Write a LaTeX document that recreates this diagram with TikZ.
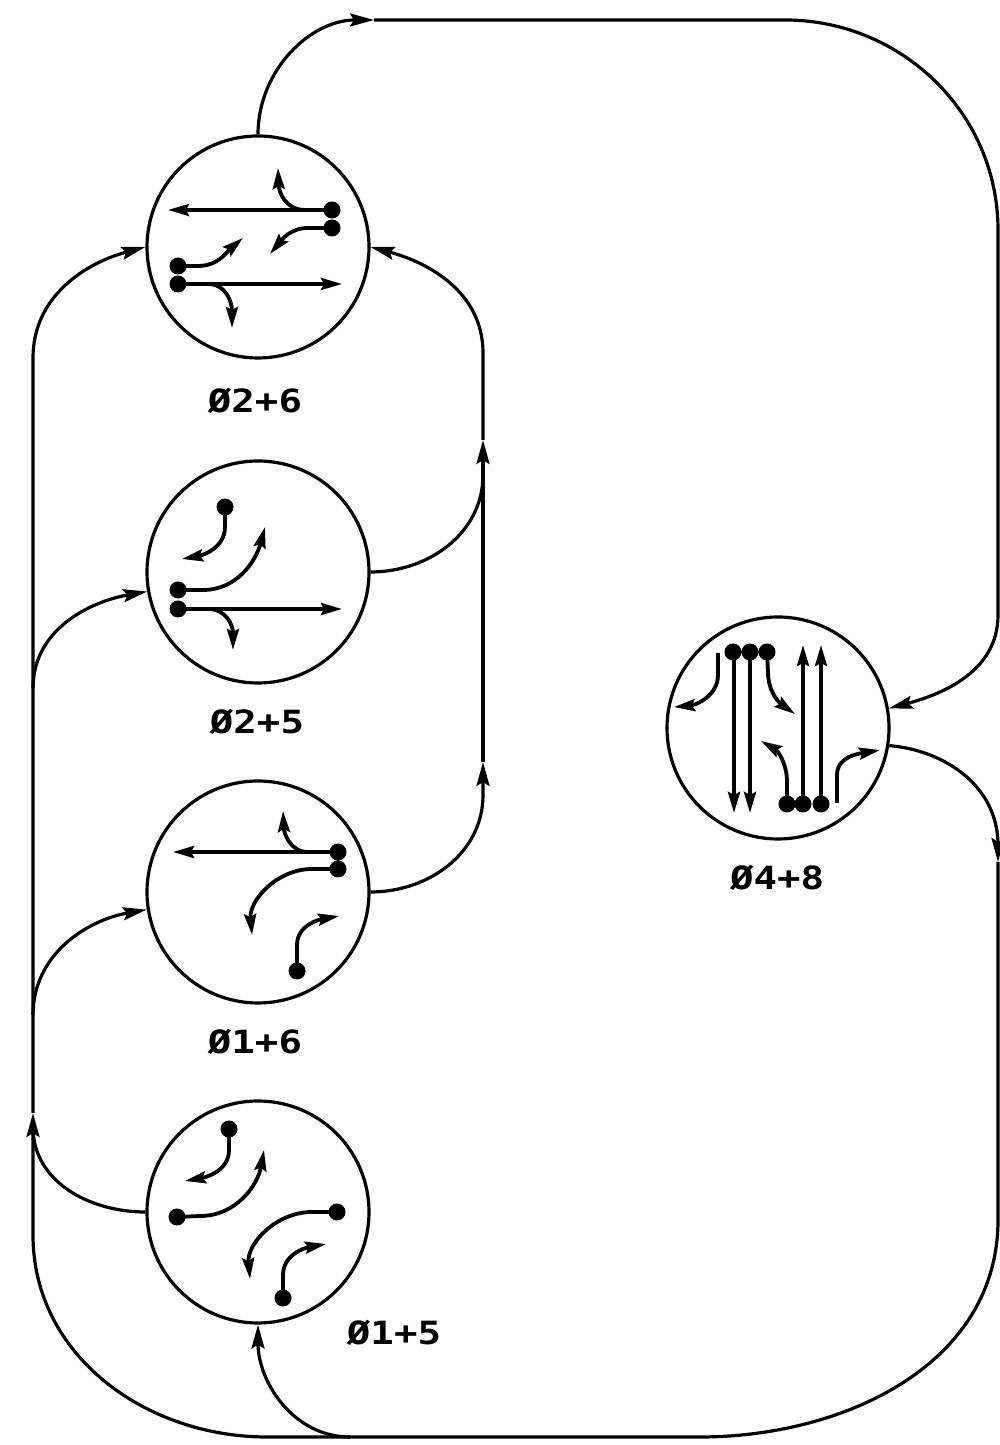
\documentclass[tikz,border=0pt]{standalone}
\usepackage{fontspec}
\usepackage{graphicx}
\newfontfamily\lblfont{DejaVu Sans Mono}
\usetikzlibrary{arrows.meta}
\begin{document}
\begin{tikzpicture}[x=1pt,y=1pt,
  ring/.style={circle,draw,line width=3.2pt,minimum size=222pt,inner sep=0pt},
  lbl/.style={inner sep=0pt,font=\lblfont\bfseries\fontsize{32}{32}\selectfont},
  cl/.style={line width=3.2pt},
  ca/.style={line width=3.2pt,-{Stealth[length=24pt,width=13pt,inset=4pt]}},
  ia/.style={line width=3.8pt,-{Stealth[length=21pt,width=12pt,inset=3pt]}},
  ]
\useasboundingbox (0,0) rectangle (1000,1445);
% phase circles
\node[ring] (A) at (258,1198) {};
\node[ring] (B) at (258,873) {};
\node[ring] (C) at (258,553) {};
\node[ring] (D) at (258,233) {};
\node[ring] (E) at (778,717) {};
% labels
\node[lbl] (LA) at (255,1044) {\scalebox{1.22}[1]{Ø2+6}};
\node[lbl] (LB) at (257,723) {\scalebox{1.22}[1]{Ø2+5}};
\node[lbl] (LC) at (255,403) {\scalebox{1.22}[1]{Ø1+6}};
\node[lbl] (LD) at (394,112) {\scalebox{1.22}[1]{Ø1+5}};
\node[lbl] (LE) at (777,567) {\scalebox{1.22}[1]{Ø4+8}};
% connector waypoints
\coordinate (t1) at (374,1425);
\coordinate (t2) at (785,1425);
\coordinate (t3) at (998,1215);
\coordinate (t4) at (998,830);
\coordinate (r1) at (998,600);
\coordinate (r2) at (998,583);
\coordinate (r3) at (998,225);
\coordinate (b1) at (700,8);
\coordinate (j1) at (350,8);
\coordinate (b2) at (267,8);
\coordinate (l1) at (33,210);
\coordinate (l2) at (33,332);
\coordinate (jd) at (33,318);
\coordinate (jc) at (33,430);
\coordinate (jb) at (33,757);
\coordinate (l3) at (33,1087);
\coordinate (rc) at (483,650);
\coordinate (ra) at (483,683);
\coordinate (rb) at (483,970);
\coordinate (rbb) at (483,1005);
\coordinate (rt) at (483,1092);
% connectors
\draw[ca] (A.north) to[out=90,in=180] (t1);
\draw[ca] (t1) -- (t2) to[out=0,in=90] (t3) -- (t4) to[out=-90,in=15] (E.10);
\draw[ca] (E.-9) to[out=-5,in=90] (r1) -- (r2);
\draw[cl] (r2) -- (r3) to[out=-90,in=0] (b1) -- (j1);
\draw[ca] (j1) to[out=180,in=-90] (D.south);
\draw[ca] (j1) -- (b2) to[out=180,in=-90] (l1) -- (l2);
\draw[cl] (D.west) to[out=180,in=-90] (jd);
\draw[ca] (l2) -- (l3) to[out=90,in=195] (A.west);
\draw[ca] (jc) to[out=90,in=190] (C.189);
\draw[ca] (jb) to[out=90,in=190] (B.190);
\draw[ca] (C.east) to[out=0,in=-90] (rc) -- (ra);
\draw[ca] (ra) -- (rbb);
\draw[cl] (B.east) to[out=0,in=-90] (rb);
\draw[ca] (rbb) -- (rt) to[out=90,in=-15] (A.east);
% movements in A
\draw[ia] (332,1235) -- (168,1235);
\draw[ia] (305,1235) .. controls (286,1235) and (279,1252) .. (278,1277);
\draw[ia] (332,1217) -- (308,1217) to[out=180,in=50] (270,1191);
\draw[ia] (178,1179) -- (198,1179) to[out=0,in=-140] (243,1207);
\draw[ia] (178,1161) -- (342,1161);
\draw[ia] (208,1161) .. controls (226,1161) and (232,1143) .. (232,1117);
\fill (332,1235) circle (8.5) (332,1217) circle (8.5) (178,1179) circle (8.5) (178,1161) circle (8.5);
% movements in B
\draw[ia] (225,938) -- (225,918) to[out=-90,in=10] (182,886);
\draw[ia] (178,855) -- (203,855) to[out=0,in=-105] (265,918);
\draw[ia] (178,836) -- (342,836);
\draw[ia] (208,836) .. controls (226,836) and (233,820) .. (233,795);
\fill (225,938) circle (8.5) (178,855) circle (8.5) (178,836) circle (8.5);
% movements in C
\draw[ia] (338,593) -- (173,593);
\draw[ia] (308,593) .. controls (290,593) and (284,612) .. (283,634);
\draw[ia] (338,576) -- (312,576) to[out=180,in=95] (252,510);
\draw[ia] (297,474) -- (297,500) to[out=90,in=190] (339,529);
\fill (338,593) circle (8.5) (338,576) circle (8.5) (297,474) circle (8.5);
% movements in D
\draw[ia] (229,316) -- (229,295) to[out=-90,in=10] (185,264);
\draw[ia] (177,228) -- (200,229) to[out=0,in=-100] (264,295);
\draw[ia] (337,233) -- (312,233) to[out=180,in=95] (250,166);
\draw[ia] (283,147) -- (283,170) to[out=90,in=190] (326,201);
\fill (229,316) circle (8.5) (177,228) circle (8.5) (337,233) circle (8.5) (283,147) circle (8.5);
% movements in E
\draw[ia] (734,793) -- (734,632);
\draw[ia] (750,793) -- (750,632);
\draw[ia] (767,793) -- (768,773) to[out=-90,in=145] (795,731);
\draw[ia] (718,792) -- (718,770) to[out=-90,in=5] (674,738);
\draw[ia] (803,641) -- (803,800);
\draw[ia] (821,641) -- (821,800);
\draw[ia] (787,641) -- (787,663) to[out=90,in=-30] (761,704);
\draw[ia] (837,642) -- (837,670) to[out=90,in=190] (880,695);
\fill (733,793) circle (8.5) (750,793) circle (8.5) (767,793) circle (8.5)
      (787,641) circle (8.5) (803,641) circle (8.5) (821,641) circle (8.5);
\end{tikzpicture}
\end{document}
